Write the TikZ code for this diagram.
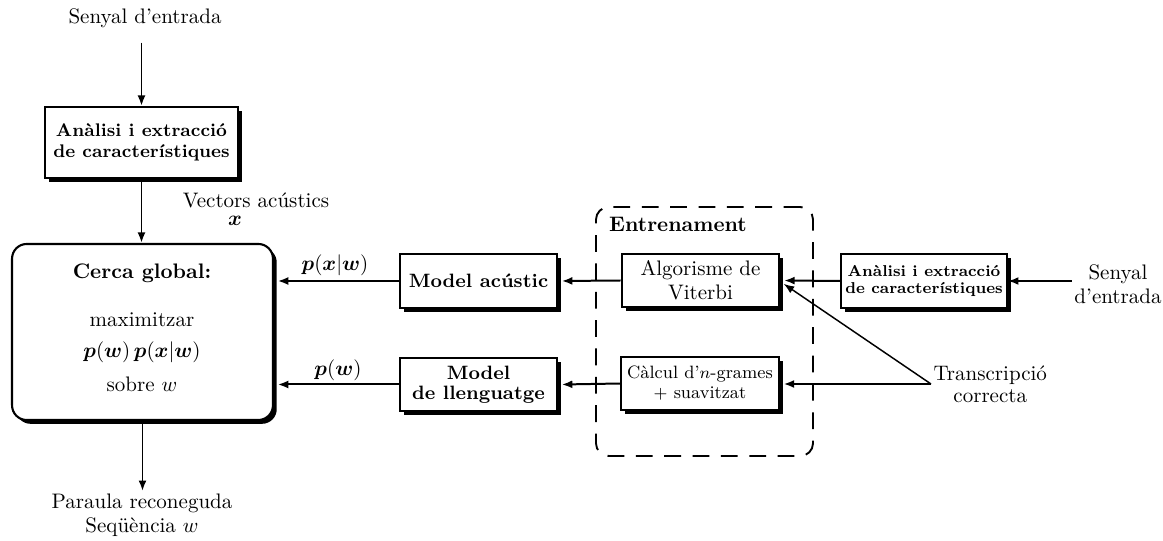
\documentclass[tikz,border=0pt]{standalone}
\usepackage{fontspec}
\usepackage{amsmath,bm}
\usetikzlibrary{shadows,arrows.meta}
\begin{document}
\begin{tikzpicture}[x=0.476pt,y=-0.476pt,
  box/.style={draw, line width=1pt, fill=white, align=center, inner sep=2pt,
    general shadow={fill=black, shadow xshift=1.8pt, shadow yshift=-1.8pt}},
  arr/.style={-{Latex[length=5pt,width=3.8pt]}, line width=0.95pt},
  lbl/.style={align=center, inner sep=1pt}]
\useasboundingbox (0,0) rectangle (1163,541);

% left column
\node[lbl] (sig) at (145,18) {Senyal d’entrada};
\node[box, minimum width=91.9pt, minimum height=33.8pt,
  font=\fontsize{8.7}{10}\selectfont\bfseries] (an1) at (141.5,142.5)
  {Anàlisi i extracció\\de característiques};
\node[box, rounded corners=7pt, minimum width=124.2pt, minimum height=83.8pt] (cg) at (142.5,332) {};
\node[lbl, font=\bfseries] (cg1) at (142,273) {Cerca global:};
\node[lbl] (cg2) at (142,320) {maximitzar};
\node[lbl] (cg3) at (142,352) {$\bm{p}(\bm{w})\,\bm{p}(\bm{x}|\bm{w})$};
\node[lbl] (cg4) at (142,384) {sobre $w$};
\node[lbl] (vec) at (256,200) {Vectors acústics};
\node[lbl] (vx) at (235,221) {$\bm{x}$};
\node[lbl, font=\fontsize{10}{11.5}\selectfont] (out) at (142,515) {Paraula reconeguda\\Seqüència $w$};

\draw[arr, shorten <=6pt] (sig.south -| an1.north) -- (an1.north);
\draw[arr] (an1.south) -- (an1.south |- cg.north);
\draw[arr] (cg.south) -- (cg.south |- out.north);

% models
\node[box, minimum width=74.7pt, minimum height=25.7pt,
  font=\fontsize{9.2}{9.5}\selectfont\bfseries] (ma) at (478.5,281) {Model acústic};
\node[box, minimum width=74.7pt, minimum height=25.2pt,
  font=\fontsize{9.2}{9.5}\selectfont\bfseries] (ml) at (478.5,384.5) {Model\\de llenguatge};

% training
\node[draw, dash pattern=on 8pt off 5.5pt, rounded corners=6pt, line width=0.9pt,
  minimum width=103.3pt, minimum height=118.5pt] (tr) at (704.5,331.5) {};
\node[lbl, font=\bfseries] (trl) at (678,224) {Entrenament};
\node[box, minimum width=75pt, minimum height=25.2pt,
  font=\fontsize{10}{11.5}\selectfont] (vit) at (700.5,280.5) {Algorisme de\\Viterbi};
\node[box, minimum width=75pt, minimum height=25.2pt,
  font=\fontsize{8.5}{9.5}\selectfont] (cal) at (700,383.5) {Càlcul d’$n$-grames\\$+$ suavitzat};

% right side
\node[box, minimum width=75pt, minimum height=25.7pt,
  font=\fontsize{7.5}{8.2}\selectfont\bfseries] (an2) at (924,281)
  {Anàlisi i extracció\\de característiques};
\node[lbl, font=\fontsize{10}{11.5}\selectfont] (sig2) at (1118,284) {Senyal\\d’entrada};
\node[lbl, anchor=west, font=\fontsize{10}{10.5}\selectfont] (trc) at (931,384) {Transcripció\\correcta};

% connectors
\draw[arr] (sig2.west |- an2.east) -- (an2.east);
\draw[arr] (an2.west) -- ([xshift=1.8pt]vit.east);
\draw[arr] (vit.west) -- ([xshift=1.8pt]ma.east);
\draw[arr] (cal.west) -- ([xshift=1.8pt]ml.east);
\draw[arr, line width=0.7pt] (trc.west) -- ([xshift=1.6pt,yshift=-1.6pt]vit.east);
\draw[arr] (trc.west) -- ([xshift=1.8pt]trc.west -| cal.east);
\draw[arr] (ma.west) -- ([xshift=1.8pt]ma.west -| cg.east);
\draw[arr] (ml.west) -- ([xshift=1.8pt]ml.west -| cg.east);
\node[lbl] (pxw) at (335,265) {$\bm{p}(\bm{x}|\bm{w})$};
\node[lbl] (pw) at (338,370) {$\bm{p}(\bm{w})$};
\end{tikzpicture}
\end{document}
